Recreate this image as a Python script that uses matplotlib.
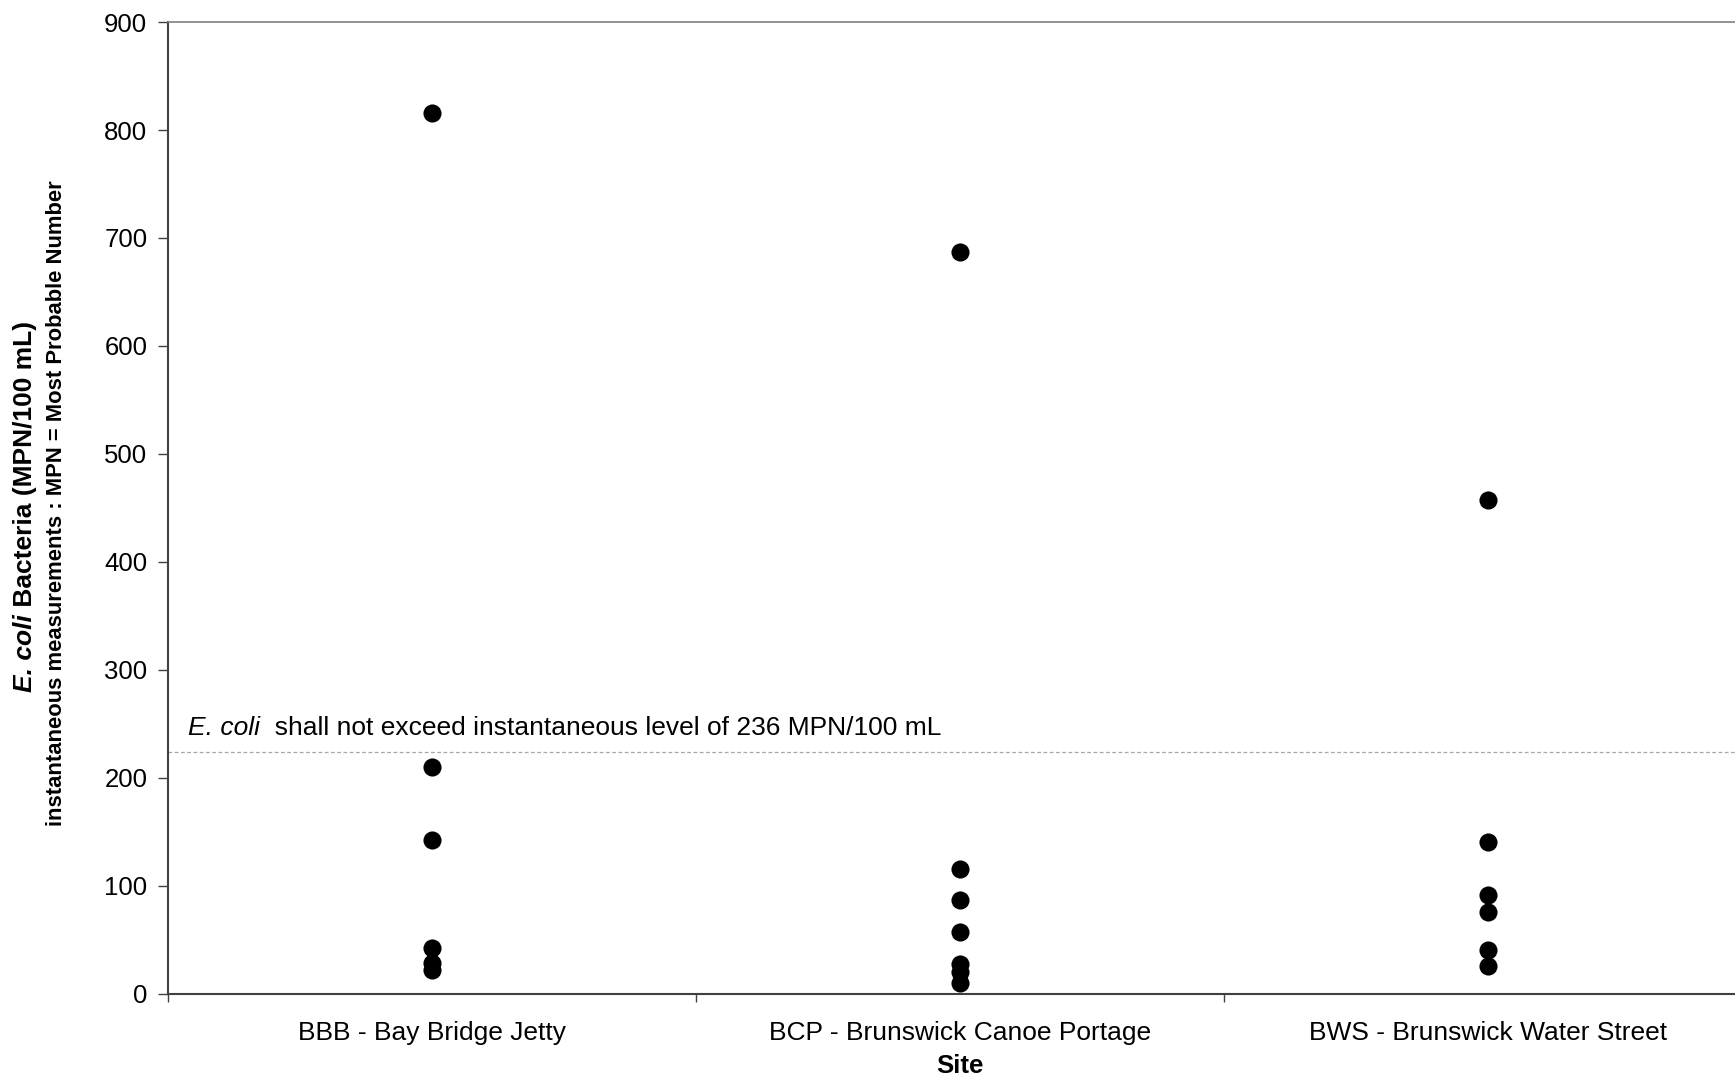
import matplotlib
matplotlib.use("Agg")
import matplotlib.pyplot as plt
import numpy as np

plt.rcParams['font.family'] = ['Liberation Sans', 'DejaVu Sans']

sites = ["BBB - Bay Bridge Jetty", "BCP - Brunswick Canoe Portage", "BWS - Brunswick Water Street"]
bbb_values = [816, 210, 142, 42, 28, 22]
bcp_values = [687, 115, 87, 57, 27, 20, 10]
bws_values = [457, 140, 91, 76, 40, 26]
standard_line = 224
yticks = [0, 100, 200, 300, 400, 500, 600, 700, 800, 900]

fig = plt.figure(figsize=(17.35, 10.78), dpi=100)
ax = fig.add_axes([0.0969, 0.0783, 0.9126, 0.9012])

for i, vals in enumerate([bbb_values, bcp_values, bws_values]):
    ax.scatter([i + 1] * len(vals), vals, s=170, color='black', zorder=3, linewidths=0)

ax.axhline(standard_line, color='#a6a6a6', linestyle=(0, (3, 2)), linewidth=0.9, zorder=1)

ax.set_xlim(0.5, 3.5)
ax.set_ylim(0, 900)
ax.set_yticks(yticks)
ax.set_yticklabels([str(v) for v in yticks], fontsize=18.5)
ax.set_xticks([1, 2, 3])
ax.set_xticklabels(sites, fontsize=19)
ax.set_xticks([0.5, 1.5, 2.5, 3.5], minor=True)
ax.tick_params(axis='x', which='major', length=0, pad=20)
ax.tick_params(axis='x', which='minor', length=6, width=1, color='#404040', direction='out')
ax.tick_params(axis='y', length=7, width=1, color='#404040', direction='out', pad=8)

for side in ['left', 'bottom']:
    ax.spines[side].set_color('#404040')
    ax.spines[side].set_linewidth(1.5)
ax.spines['top'].set_color('#808080')
ax.spines['top'].set_linewidth(1.2)
ax.spines['right'].set_visible(False)

ax.set_xlabel("Site", fontsize=18.5, fontweight='bold', labelpad=6)

# annotation text
t1 = ax.text(0.538, standard_line + 11, "E. coli", fontsize=19, style='italic',
             va='bottom', ha='left', transform=ax.transData)
ax.annotate("  shall not exceed instantaneous level of 236 MPN/100 mL", xy=(1, 0),
            xycoords=t1, va='bottom', ha='left', fontsize=19)

# y label with mixed styles
fig.canvas.draw()
r = fig.canvas.get_renderer()
a = fig.text(0, 0, "E. coli", rotation=90, fontsize=19, fontweight='bold', style='italic')
b = fig.text(0, 0, " Bacteria (MPN/100 mL)", rotation=90, fontsize=19, fontweight='bold')
ha_ = a.get_window_extent(r).height
hb_ = b.get_window_extent(r).height
total = ha_ + hb_
ystart = 1078 * (1 - 506 / 1078) - total / 2
a.set_position((25 / 1735, ystart / 1078))
a.set_ha('center'); a.set_va('bottom')
b.set_position((25 / 1735, (ystart + ha_) / 1078))
b.set_ha('center'); b.set_va('bottom')

fig.text(57 / 1735, 1 - 503 / 1078, "instantaneous measurements : MPN = Most Probable Number",
         rotation=90, fontsize=15.8, fontweight='bold', ha='center', va='center')

fig.savefig("out.png", dpi=100)
